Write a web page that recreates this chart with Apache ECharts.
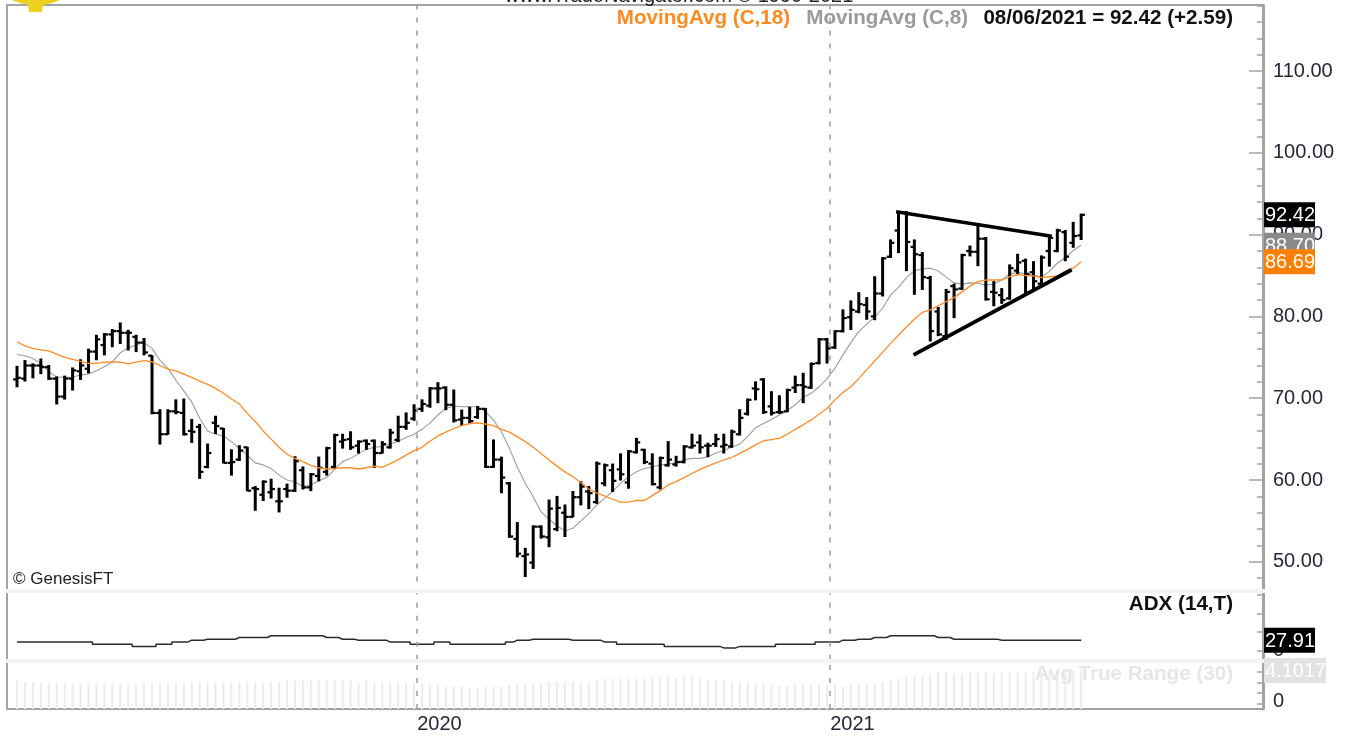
<!DOCTYPE html>
<html>
<head>
<meta charset="utf-8">
<style>html,body{margin:0;padding:0;background:#fff}#c{width:1349px;height:736px}</style>
<script src="https://cdn.jsdelivr.net/npm/echarts@6/dist/echarts.min.js"></script>
</head>
<body>
<div id="c"></div>
<script>
const highs = [
73.9,74.6,74.2,74.8,74.0,72.6,72.7,73.7,74.7,76.0,
77.7,77.9,78.4,79.2,78.3,77.7,77.3,75.2,68.6,68.6,
69.8,69.9,67.4,66.8,64.4,67.8,66.3,63.7,64.2,64.0,
59.2,59.9,60.1,59.0,59.5,62.85,61.6,60.8,62.8,64.0,
65.6,65.6,65.9,64.8,64.9,64.9,64.7,66.2,67.8,68.2,
69.2,69.8,71.3,71.9,71.4,71.0,68.55,68.9,69.0,68.75,
64.9,62.8,59.7,54.8,51.65,54.4,54.4,57.55,58.0,56.95,
58.6,59.8,59.2,62.2,61.95,61.95,63.2,63.6,65.1,63.75,
63.2,62.8,64.7,62.9,64.2,65.6,65.5,64.5,65.6,65.6,
66.1,68.6,69.9,72.0,72.4,70.8,70.3,71.1,72.7,73.05,
74.3,77.3,77.3,78.25,80.8,81.9,82.9,82.3,84.85,87.2,
89.35,92.8,92.8,89.35,87.8,84.9,81.1,83.3,83.95,87.6,
88.6,91.2,89.65,84.25,83.4,86.3,87.6,87.0,86.7,87.4,
89.75,90.65,90.5,91.5,92.5];
const lows = [
71.4,72.1,72.5,73.0,72.3,69.3,69.9,71.0,72.3,73.1,
74.7,75.3,76.3,76.7,75.9,75.7,75.3,68.1,64.4,65.6,
68.1,65.5,64.6,60.2,61.5,65.7,62.1,60.6,62.4,58.7,
56.3,57.5,57.8,56.1,57.9,58.6,58.9,58.7,59.9,60.6,
61.4,63.9,63.75,63.3,63.75,61.55,63.3,63.9,64.7,66.2,
67.3,68.4,68.9,69.45,68.6,67.1,66.7,66.9,67.55,61.55,
61.55,58.45,53.0,50.6,48.2,49.2,52.9,51.85,53.8,53.1,
55.5,56.95,56.5,57.15,59.3,58.6,60.0,59.0,63.3,62.0,
59.4,58.9,61.7,61.7,62.1,63.9,63.3,62.85,64.1,63.3,
64.0,65.5,67.95,69.8,68.15,67.95,68.15,68.35,70.7,69.45,
71.2,74.2,74.3,76.1,78.1,78.4,80.45,79.65,79.6,82.5,
87.2,87.8,85.6,82.7,83.3,77.0,77.65,77.2,79.85,83.3,
87.4,86.2,82.0,81.3,81.6,82.1,85.1,82.75,83.4,83.7,
86.15,87.9,86.8,88.45,89.4];
const opens = [
72.3,72.4,74.0,74.0,73.8,72.4,70.2,72.4,73.3,73.6,
75.7,76.5,77.8,78.2,78.0,77.5,76.8,75.2,68.2,65.6,
68.4,68.2,66.0,66.5,61.6,67.0,66.3,62.1,62.5,64.0,
59.0,58.2,58.5,57.4,58.9,58.7,61.2,59.1,60.5,61.0,
61.6,64.7,65.0,64.2,64.8,64.8,63.3,64.0,64.9,66.5,
67.5,68.7,69.1,71.2,71.3,69.2,67.4,67.6,67.7,68.7,
61.6,62.5,59.6,52.8,50.7,49.9,54.3,53.0,54.0,56.0,
55.5,57.9,58.6,57.3,59.6,61.2,61.3,59.7,63.4,63.7,
62.0,59.1,61.8,61.9,62.2,64.0,64.6,64.2,64.4,64.1,
64.1,65.6,68.1,71.2,72.3,69.0,68.3,68.4,71.3,71.6,
71.3,74.3,77.2,76.2,78.2,79.9,80.6,81.4,80.0,82.8,
87.3,90.5,92.7,88.5,87.5,84.7,80.6,77.6,83.7,83.4,
88.0,87.9,89.5,83.0,82.6,82.2,85.6,86.8,85.4,84.0,
88.0,88.0,90.3,89.0,89.9];
const closes = [
72.5,74.0,74.0,73.8,72.4,70.2,72.4,73.4,74.0,75.7,
77.2,77.8,78.2,78.0,78.0,76.8,75.6,68.2,65.6,68.4,
68.3,65.6,65.9,61.0,63.3,66.6,62.1,62.2,63.6,58.7,
58.9,59.8,58.9,57.4,58.7,62.3,59.1,60.7,61.5,63.9,
65.5,64.9,64.0,64.7,64.4,63.3,64.4,65.8,66.5,67.0,
68.5,69.3,71.2,71.2,69.2,67.3,67.6,67.2,68.7,61.6,
62.5,60.3,53.1,51.0,50.9,54.3,53.1,56.5,56.6,55.5,
57.9,59.2,58.4,62.0,61.8,59.9,60.7,63.5,64.6,62.2,
59.5,62.7,62.5,62.2,64.1,64.2,64.0,64.2,65.0,64.3,
65.9,67.6,69.8,71.1,68.3,68.2,68.3,71.0,71.6,71.4,
74.2,77.2,76.1,78.2,79.8,80.8,81.5,80.6,82.8,87.1,
89.0,92.7,89.1,87.6,84.8,78.2,77.8,83.0,83.3,87.5,
87.9,89.5,82.1,82.9,82.0,85.9,86.6,85.2,84.3,87.2,
89.6,90.5,87.3,89.83,92.42];
const ma18 = [
76.9,76.4,76.1,75.9,75.8,75.4,75.0,74.75,74.5,74.25,
74.25,74.4,74.45,74.4,74.2,74.4,74.6,74.45,74.0,73.55,
73.35,72.95,72.55,72.1,71.7,71.2,70.6,69.9,69.3,68.15,
67.15,66.0,65.0,64.0,63.15,62.65,62.25,61.8,61.5,61.35,
61.4,61.5,61.5,61.35,61.5,61.7,61.55,62.0,62.5,63.05,
63.6,64.0,64.75,65.4,65.85,66.3,66.65,66.9,67.0,66.85,
66.65,66.2,65.85,65.3,64.7,64.0,63.25,62.45,61.7,61.0,
60.4,59.7,58.9,58.4,58.05,57.65,57.3,57.3,57.5,57.5,
58.1,58.7,59.4,59.8,60.3,60.8,61.3,61.7,62.1,62.45,
62.75,63.25,63.75,64.3,64.8,64.95,65.1,65.6,66.2,66.75,
67.35,68.05,68.75,69.8,70.7,71.4,72.4,73.5,74.55,75.6,
76.7,77.7,78.7,79.65,80.5,80.8,81.3,81.8,82.3,83.0,
83.7,84.25,84.45,84.45,84.45,84.85,85.15,85.0,84.95,84.75,
84.85,84.95,85.5,85.9,86.69];
const ma8 = [
75.35,75.2,74.85,74.25,73.25,72.6,72.55,72.6,72.85,72.95,
73.35,73.85,74.45,75.55,76.15,76.5,76.8,76.1,74.65,73.65,
72.2,70.9,69.55,67.55,66.0,65.6,65.4,64.7,63.85,63.05,
62.1,61.85,61.4,60.6,60.0,59.8,59.2,59.4,59.9,60.3,
61.3,62.25,62.65,63.2,63.75,64.0,64.1,64.4,64.75,65.2,
65.6,66.2,66.95,67.95,68.75,69.05,68.95,68.95,68.95,68.35,
67.35,65.9,63.9,61.6,59.6,57.95,56.1,55.2,54.4,53.8,
54.1,55.0,55.9,56.95,57.75,58.6,59.6,60.4,61.0,61.4,
61.6,61.85,61.95,62.1,62.45,62.65,62.65,62.85,63.3,63.6,
64.0,64.4,65.3,66.4,66.9,67.4,67.95,68.5,69.2,70.1,
70.6,71.4,72.4,73.65,75.3,76.8,78.15,79.05,79.9,81.0,
82.6,83.55,84.75,85.6,85.8,85.9,85.55,84.8,84.1,83.95,
84.1,84.05,83.85,83.95,84.45,85.2,85.4,85.2,85.05,84.8,
85.5,86.5,87.2,88.05,88.7];
const adx = [
22.7,22.7,22.7,22.7,22.7,22.7,22.7,22.7,22.7,22.7,
16.8,16.8,16.8,16.8,16.8,11.1,11.1,11.1,16.8,16.8,
22.7,22.7,27.9,27.9,30.3,30.3,30.3,30.3,35.1,35.1,
35.1,35.1,40.0,40.0,40.0,40.0,40.0,40.0,40.0,35.1,
35.1,30.3,30.3,27.9,27.9,27.9,27.9,22.7,22.7,22.7,
16.8,16.8,16.8,22.7,22.7,16.8,16.8,16.8,16.8,16.8,
16.8,16.8,22.7,27.9,27.9,30.3,30.3,30.3,30.3,30.3,
27.9,27.9,27.9,27.9,22.7,22.7,16.8,16.8,16.8,16.8,
16.8,16.8,11.1,11.1,11.1,11.1,11.1,11.1,11.1,7.0,
7.0,11.1,11.1,11.1,11.1,11.1,16.8,16.8,16.8,16.8,
16.8,22.7,22.7,22.7,27.9,27.9,30.3,30.3,35.1,35.1,
40.0,40.0,40.0,40.0,40.0,40.0,35.1,35.1,30.3,30.3,
30.3,30.3,30.3,30.3,27.91,27.91,27.91,27.91,27.91,27.91,
27.91,27.91,27.91,27.91,27.91];
const atr = [
3.13,3.04,3.04,3.04,2.95,2.95,2.95,2.95,2.95,2.95,
2.95,2.95,2.95,2.92,2.76,2.76,2.92,2.92,2.92,2.92,
2.92,2.92,3.07,3.07,3.07,3.07,3.07,3.07,3.07,3.07,
3.07,3.07,3.07,3.07,3.19,3.19,3.19,3.19,3.19,3.19,
3.19,3.19,3.19,3.07,3.19,3.07,3.07,2.92,2.92,2.92,
2.92,2.89,2.76,2.76,2.61,2.61,2.61,2.49,2.49,2.61,
2.61,2.61,2.73,2.89,2.89,2.89,2.92,3.04,3.04,3.04,
3.04,3.04,3.04,3.19,3.34,3.34,3.34,3.34,3.34,3.34,
3.49,3.49,3.49,3.37,3.49,3.49,3.34,3.19,3.19,3.19,
3.04,3.04,3.04,2.92,2.92,2.76,2.76,2.76,2.76,2.76,
2.76,2.76,2.76,2.76,2.61,2.76,2.76,2.76,2.92,3.07,
3.19,3.34,3.49,3.65,3.65,3.80,3.92,3.92,3.80,3.80,
3.92,3.92,3.92,3.92,3.92,3.92,3.92,3.92,3.95,3.95,
3.98,4.01,4.04,4.07,4.1017];
const resistanceLine = [[110.7,92.8],[130.3,89.8]];
const supportLine = [[112.9,75.3],[132.8,85.7]];
const yearPositions = [50.4,102.4];
const yearLabels = ['2020','2021'];
const priceLabelValues = [50,60,70,80,90,100,110];
const adxTickValues = [0,50,100];
const atrTickValues = [1,2,3,4];
const atrLabelValue = [1.19];
const priceTagValues = [92.42,88.70,86.69];
const priceTagColors = ['#000000','#8a8a8a','#ff8000'];
const adxTagValues = [27.91];
const adxTagColors = ['#000000'];
const atrTagValues = [4.1017];
const atrTagColors = ['#e2e2e2'];

const AXIS_GREY = '#a3a3a3';
const LABEL = '#26263a';
const X_MIN = -1.26, X_MAX = 156.9;
const chart = echarts.init(document.getElementById('c'));

const ohlc = highs.map((h, i) => [i, opens[i], closes[i], lows[i], h]);
const pairs = arr => arr.map((v, i) => [i, v]);

function renderBar(params, api) {
  const x = api.value(0);
  const o = api.coord([x, api.value(1)]);
  const c = api.coord([x, api.value(2)]);
  const l = api.coord([x, api.value(3)]);
  const h = api.coord([x, api.value(4)]);
  const st = { stroke: '#000', lineWidth: 3 };
  const tick = { stroke: '#000', lineWidth: 2.2 };
  return { type: 'group', children: [
    { type: 'line', shape: { x1: h[0], y1: h[1] - 0.5, x2: l[0], y2: l[1] + 0.5 }, style: st },
    { type: 'line', shape: { x1: o[0] - 3.8, y1: o[1], x2: o[0], y2: o[1] }, style: tick },
    { type: 'line', shape: { x1: c[0], y1: c[1], x2: c[0] + 3.8, y2: c[1] }, style: tick }
  ]};
}
function renderTag(width, decimals, colors) {
  return function (params, api) {
    const cs = params.coordSys;
    const v = api.value(1);
    const y = api.coord([0, v])[1];
    const x = cs.x + cs.width + 1;
    const order = params.dataIndex;
    return { type: 'group', children: [
      { type: 'rect', z2: order * 2 + 10, shape: { x: x, y: y - 12.5, width: width, height: 25 }, style: { fill: colors[order] } },
      { type: 'text', z2: order * 2 + 11, style: { text: v.toFixed(decimals), x: x + 1, y: y + 1, fill: '#fff', font: '20px "Liberation Sans", Arial, sans-serif', verticalAlign: 'middle', align: 'left' } }
    ]};
  };
}
const tagData = vals => vals.map(v => [0, v]);
const yearLines = {
  silent: true, symbol: 'none', animation: false, label: { show: false },
  lineStyle: { color: '#9a9a9a', type: [5, 8], width: 1.5 },
  data: yearPositions.map(v => ({ xAxis: v }))
};
const valueLabel = { fontFamily: '"Liberation Sans", Arial, sans-serif', fontSize: 20, color: LABEL, margin: 10, padding: [4, 0, 0, 0] };
const hiddenX = gi => ({ type: 'value', gridIndex: gi, min: X_MIN, max: X_MAX, show: false, splitLine: { show: false } });
const noGrid = { show: false };
const greyLine = { show: true, onZero: false, lineStyle: { color: AXIS_GREY, width: 3 } };
const HEAD = 'bold 20.6px "Liberation Sans", Arial, sans-serif';
const txt = (text, x, y, fill, align, font) => ({
  type: 'text', z: 90, silent: true,
  style: { text, x, y, fill, font, align: align || 'right', verticalAlign: 'middle' }
});

chart.setOption({
  animation: false,
  backgroundColor: '#fff',
  grid: [
    { left: 7, width: 1256, top: 5.56, height: 589 },
    { left: 7, width: 1256, top: 595, height: 64.75 },
    { left: 7, width: 1256, top: 661, height: 48 }
  ],
  xAxis: [
    hiddenX(0), hiddenX(1),
    { type: 'value', gridIndex: 2, min: X_MIN, max: X_MAX, splitLine: noGrid,
      axisLine: { show: false }, axisTick: { show: false },
      axisLabel: { customValues: yearPositions, align: 'left', margin: 5, fontFamily: valueLabel.fontFamily, fontSize: 20, color: LABEL,
        formatter: v => yearLabels[yearPositions.indexOf(v)] } }
  ],
  yAxis: [
    { type: 'value', gridIndex: 0, position: 'right', min: 46, max: 118, interval: 2, splitLine: noGrid,
      axisLine: greyLine, axisTick: { show: true, inside: true, length: 6, lineStyle: { color: AXIS_GREY, width: 1.5 } }, axisLabel: { show: false } },
    { type: 'value', gridIndex: 0, position: 'right', min: 46, max: 118, splitLine: noGrid,
      axisLine: { show: false, onZero: false }, axisTick: { show: true, inside: true, length: 14, customValues: priceLabelValues, lineStyle: { color: AXIS_GREY, width: 1.5 } },
      axisLabel: Object.assign({ customValues: priceLabelValues, formatter: v => v.toFixed(2) }, valueLabel) },
    { type: 'value', gridIndex: 1, position: 'right', min: -25, max: 150, splitLine: noGrid,
      axisLine: greyLine, axisTick: { show: true, inside: true, length: 6, customValues: adxTickValues, lineStyle: { color: AXIS_GREY, width: 1.5 } },
      axisLabel: Object.assign({ customValues: [0], formatter: v => String(v) }, valueLabel) },
    { type: 'value', gridIndex: 2, position: 'right', min: 0.5, max: 4.99, splitLine: noGrid,
      axisLine: greyLine, axisTick: { show: true, inside: true, length: 6, customValues: atrTickValues, lineStyle: { color: AXIS_GREY, width: 1.5 } },
      axisLabel: Object.assign({ customValues: atrLabelValue, formatter: () => '0' }, valueLabel) }
  ],
  series: [
    { type: 'line', name: 'MovingAvg (C,8)', xAxisIndex: 0, yAxisIndex: 0, data: pairs(ma8), showSymbol: false, z: 3,
      lineStyle: { color: '#9c9c9c', width: 1.1 }, markLine: yearLines },
    { type: 'custom', name: 'Price', xAxisIndex: 0, yAxisIndex: 0, data: ohlc, renderItem: renderBar, z: 4,
      encode: { x: 0, y: [1, 2, 3, 4] } },
    { type: 'line', name: 'MovingAvg (C,18)', xAxisIndex: 0, yAxisIndex: 0, data: pairs(ma18), showSymbol: false, z: 5,
      lineStyle: { color: '#ff8c26', width: 1.3 } },
    { type: 'line', name: 'Resistance', xAxisIndex: 0, yAxisIndex: 0, data: resistanceLine, showSymbol: false, z: 6,
      lineStyle: { color: '#000', width: 3.4 } },
    { type: 'line', name: 'Support', xAxisIndex: 0, yAxisIndex: 0, data: supportLine, showSymbol: false, z: 6,
      lineStyle: { color: '#000', width: 3.8 } },
    { type: 'line', name: 'ADX (14,T)', xAxisIndex: 1, yAxisIndex: 2, data: pairs(adx), showSymbol: false, z: 4,
      step: 'middle', lineStyle: { color: '#2b2b2b', width: 1.5 }, markLine: yearLines },
    { type: 'bar', name: 'Avg True Range (30)', xAxisIndex: 2, yAxisIndex: 3, data: pairs(atr), barWidth: 2, z: 4,
      itemStyle: { color: '#ececec' }, markLine: yearLines },
    { type: 'custom', xAxisIndex: 0, yAxisIndex: 0, data: tagData(priceTagValues), renderItem: renderTag(51, 2, priceTagColors), z: 60, encode: { x: 0, y: 1 } },
    { type: 'custom', xAxisIndex: 1, yAxisIndex: 2, data: tagData(adxTagValues), renderItem: renderTag(51, 2, adxTagColors), z: 60, encode: { x: 0, y: 1 } },
    { type: 'custom', xAxisIndex: 2, yAxisIndex: 3, data: tagData(atrTagValues), renderItem: renderTag(62, 4, atrTagColors), z: 60, encode: { x: 0, y: 1 } }
  ],
  graphic: { elements: [
    { type: 'rect', z: 1, silent: true, shape: { x: 7, y: 5, width: 1256, height: 704 }, style: { fill: 'none', stroke: AXIS_GREY, lineWidth: 2 } },
    { type: 'rect', z: 40, silent: true, shape: { x: 6, y: 589, width: 1259, height: 4 }, style: { fill: '#f3f3f3' } },
    { type: 'rect', z: 40, silent: true, shape: { x: 6, y: 659, width: 1259, height: 4 }, style: { fill: '#f3f3f3' } },
    { type: 'polygon', z: 41, silent: true, shape: { points: [[12,0],[60,0],[52,3],[43,5],[42,12],[29,12],[28,5],[20,3]] }, style: { fill: '#ecd21e' } },
    txt('www.TradeNavigator.com \u00A9 1990-2021', 679, -4, '#222', 'center', '20px "Liberation Sans", Arial, sans-serif'),
    txt('MovingAvg (C,18)', 790, 18, '#ff8a1e', 'right', HEAD),
    txt('MovingAvg (C,8)', 968, 18, '#9a9a9a', 'right', HEAD),
    txt('08/06/2021 = 92.42 (+2.59)', 1233, 18, '#111', 'right', HEAD),
    txt('ADX (14,T)', 1233, 604, '#111', 'right', HEAD),
    txt('Avg True Range (30)', 1233, 674, '#e6e6e6', 'right', HEAD),
    txt('\u00A9 GenesisFT', 13, 579, '#222', 'left', '17px "Liberation Sans", Arial, sans-serif')
  ]}
});
</script>
</body>
</html>
